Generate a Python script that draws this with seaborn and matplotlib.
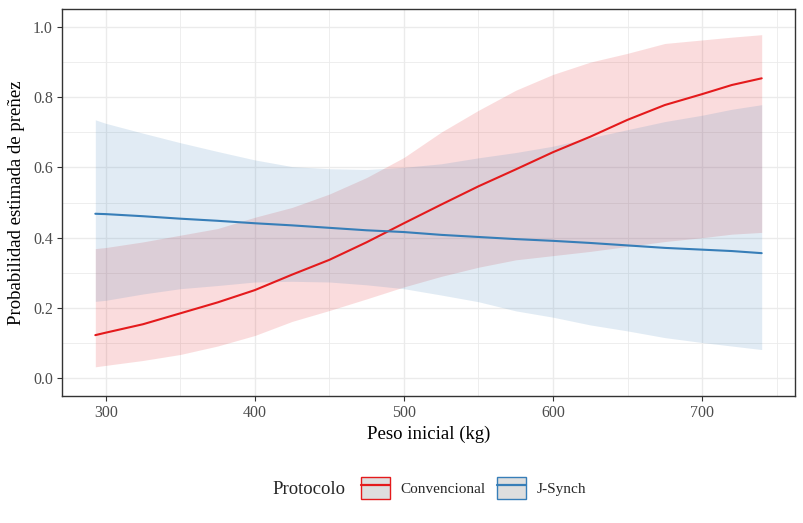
import numpy as np
import pandas as pd
import matplotlib
matplotlib.use("Agg")
import matplotlib.pyplot as plt
import seaborn as sns
from matplotlib.patches import Patch
from matplotlib.lines import Line2D
from matplotlib.legend_handler import HandlerTuple
from matplotlib.ticker import MultipleLocator

# Datos (predicciones y bandas de confianza)
peso = [293, 300, 325, 350, 375, 400, 425, 450, 475, 500,
        525, 550, 575, 600, 625, 650, 675, 700, 720, 740]

conv_fit = [0.123, 0.130, 0.154, 0.185, 0.216, 0.251, 0.295, 0.337, 0.387, 0.441,
            0.494, 0.546, 0.594, 0.643, 0.687, 0.735, 0.777, 0.808, 0.834, 0.853]
conv_low = [0.033, 0.037, 0.051, 0.068, 0.092, 0.122, 0.162, 0.193, 0.226, 0.260,
            0.290, 0.316, 0.337, 0.349, 0.361, 0.375, 0.389, 0.400, 0.410, 0.415]
conv_high = [0.369, 0.372, 0.388, 0.407, 0.426, 0.458, 0.486, 0.524, 0.571, 0.628,
             0.700, 0.762, 0.819, 0.864, 0.899, 0.924, 0.952, 0.962, 0.970, 0.977]

js_fit = [0.468, 0.467, 0.461, 0.454, 0.448, 0.441, 0.435, 0.428, 0.421, 0.416,
          0.408, 0.402, 0.396, 0.391, 0.385, 0.378, 0.371, 0.366, 0.362, 0.356]
js_low = [0.219, 0.222, 0.240, 0.255, 0.264, 0.274, 0.276, 0.274, 0.266, 0.255,
          0.237, 0.218, 0.192, 0.174, 0.152, 0.135, 0.116, 0.102, 0.092, 0.082]
js_high = [0.735, 0.725, 0.697, 0.670, 0.645, 0.621, 0.602, 0.596, 0.594, 0.600,
           0.610, 0.627, 0.642, 0.660, 0.684, 0.707, 0.730, 0.748, 0.765, 0.778]

protocolos = ["Convencional", "J-Synch"]
COLORS = {"Convencional": "#E41A1C", "J-Synch": "#377EB8"}

sns.set_theme(style="whitegrid")
plt.rcParams["font.family"] = ["Liberation Serif", "DejaVu Serif"]

df = pd.DataFrame({
    "peso": peso * 2,
    "fit": conv_fit + js_fit,
    "low": conv_low + js_low,
    "high": conv_high + js_high,
    "protocolo": ["Convencional"] * len(peso) + ["J-Synch"] * len(peso),
})

fig = plt.figure(figsize=(8.04, 5.23), dpi=100)
ax = fig.add_axes([62 / 804, 1 - 396 / 523, (795 - 62) / 804, (396 - 9) / 523])
ax.set_facecolor("white")

# bandas de confianza
for p in protocolos:
    sub = df[df["protocolo"] == p]
    ax.fill_between(sub["peso"], sub["low"], sub["high"], color=COLORS[p], alpha=0.15, linewidth=0, zorder=2)

sns.lineplot(data=df, x="peso", y="fit", hue="protocolo", palette=COLORS, linewidth=1.5,
             ax=ax, legend=False, zorder=3)

# ejes al estilo theme_bw
xr = max(peso) - min(peso)
ax.set_xlim(min(peso) - 0.05 * xr, max(peso) + 0.05 * xr)
ax.set_ylim(-0.05, 1.05)
ax.xaxis.set_major_locator(MultipleLocator(100))
ax.xaxis.set_minor_locator(MultipleLocator(50))
ax.yaxis.set_major_locator(MultipleLocator(0.2))
ax.yaxis.set_minor_locator(MultipleLocator(0.1))
ax.yaxis.set_major_formatter(plt.FuncFormatter(lambda v, _: f"{v:.1f}"))
ax.grid(which="major", color="#EBEBEB", linewidth=1.0, zorder=0)
ax.grid(which="minor", color="#EBEBEB", linewidth=0.6, zorder=0)
ax.set_axisbelow(True)
for s in ax.spines.values():
    s.set_color("#333333")
    s.set_linewidth(1.0)
ax.tick_params(axis="both", which="major", length=3.5, width=0.8, color="#333333",
               labelsize=11.5, labelcolor="#4D4D4D", pad=3, bottom=True, left=True)
ax.tick_params(axis="both", which="minor", length=0)

ax.set_xlabel("Peso inicial (kg)", fontsize=13.5, color="black", labelpad=3)
ax.set_ylabel("Probabilidad estimada de preñez", fontsize=13.5, color="black", labelpad=6)

# leyenda horizontal abajo
handles = [(Patch(facecolor="#DEDEDE", edgecolor=COLORS[p], linewidth=1.0),
            Line2D([], [], color=COLORS[p], linewidth=1.6)) for p in protocolos]
fig.text(272 / 804, 1 - 489 / 523, "Protocolo", fontsize=13.5, va="center", ha="left")
fig.legend(handles, protocolos, handler_map={tuple: HandlerTuple(ndivide=1, pad=0)},
           loc="center left", bbox_to_anchor=(361 / 804, 1 - 488 / 523), ncol=2,
           frameon=False, fontsize=11, handlelength=1.9, handleheight=1.9,
           handletextpad=0.7, columnspacing=0.7, borderpad=0, borderaxespad=0)

fig.savefig("out.png", dpi=100)
